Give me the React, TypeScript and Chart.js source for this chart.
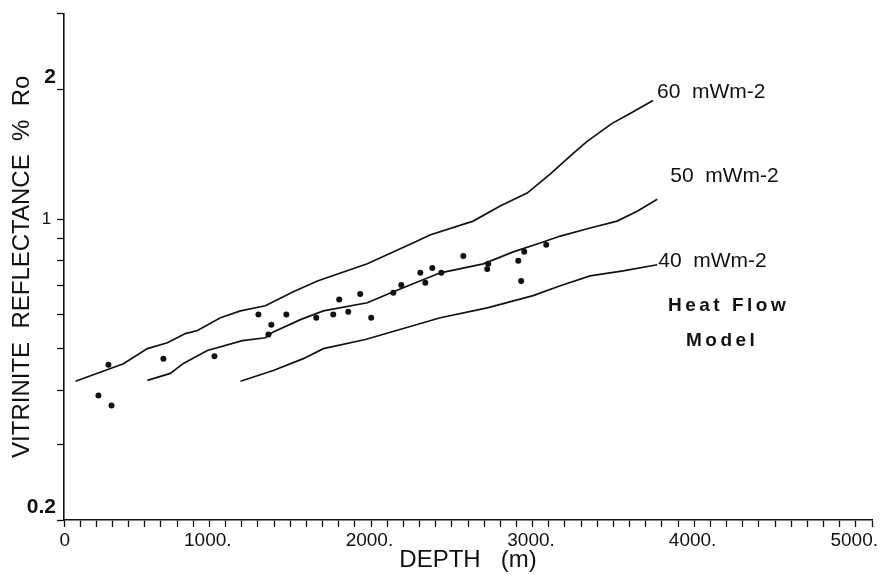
import React, { useEffect, useRef } from 'react';
import { Chart, registerables } from 'chart.js';

Chart.register(...registerables);

// ---- data ----
const curve60Depth = [71, 368, 516, 640, 751, 826, 968, 1092, 1246, 1419, 1568, 1877, 2186, 2264, 2532, 2699, 2866, 3008, 3151, 3237, 3392, 3503, 3645];
const curve60Ro = [0.42, 0.461, 0.5, 0.516, 0.542, 0.551, 0.59, 0.612, 0.629, 0.678, 0.718, 0.787, 0.889, 0.918, 0.989, 1.072, 1.149, 1.271, 1.421, 1.515, 1.668, 1.759, 1.886];

const curve50Depth = [516, 658, 739, 887, 1104, 1246, 1289, 1463, 1605, 1877, 2038, 2329, 2595, 2780, 2947, 3071, 3256, 3423, 3547, 3671];
const curve50Ro = [0.422, 0.438, 0.462, 0.495, 0.522, 0.53, 0.545, 0.584, 0.612, 0.639, 0.678, 0.75, 0.787, 0.839, 0.88, 0.913, 0.953, 0.989, 1.043, 1.112];

const curve40Depth = [1092, 1295, 1481, 1605, 1865, 2329, 2619, 2903, 3071, 3256, 3460, 3671];
const curve40Ro = [0.42, 0.445, 0.474, 0.5, 0.525, 0.59, 0.622, 0.664, 0.7, 0.738, 0.758, 0.783];

const sampleDepth = [213, 275, 294, 615, 931, 1203, 1283, 1265, 1376, 1561, 1666, 1703, 1759, 1833, 1901, 2038, 2087, 2205, 2236, 2279, 2335, 2471, 2625, 2619, 2811, 2829, 2848, 2984];
const sampleRo = [0.389, 0.459, 0.369, 0.474, 0.48, 0.6, 0.568, 0.539, 0.6, 0.59, 0.6, 0.65, 0.609, 0.67, 0.59, 0.674, 0.703, 0.75, 0.711, 0.77, 0.75, 0.821, 0.787, 0.766, 0.8, 0.718, 0.839, 0.871];

const curveLabels = ['60  mWm-2', '50  mWm-2', '40  mWm-2'];

const xMajorTicks = [0, 1000, 2000, 3000, 4000, 5000];
const xTickLabels = ['0', '1000.', '2000.', '3000.', '4000.', '5000.'];

const yTicks = [0.2, 0.3, 0.4, 0.5, 0.6, 0.7, 0.8, 0.9, 1, 2, 3];
const yLabelledTicks = [0.2, 1, 2];
const yTickLabels = ['0.2', '1', '2'];

const FONT = '"Liberation Sans", Arial, Helvetica, sans-serif';
const INK = '#111';

const zip = (xs: number[], ys: number[]) => xs.map((x, i) => ({ x, y: ys[i] }));

const annotationPlugin = {
  id: 'annotations',
  afterDatasetsDraw(chart: any) {
    const ctx = chart.ctx;
    ctx.save();
    ctx.fillStyle = INK;
    ctx.textBaseline = 'middle';
    ctx.textAlign = 'left';
    const offsets = [
      [4, -8],
      [13, -23],
      [1, -4],
    ];
    ctx.font = `21px ${FONT}`;
    for (let i = 0; i < 3; i++) {
      const meta = chart.getDatasetMeta(i);
      const last = meta.data[meta.data.length - 1];
      ctx.fillText(curveLabels[i], last.x + offsets[i][0], last.y + offsets[i][1]);
    }
    ctx.font = `bold 19px ${FONT}`;
    (ctx as any).letterSpacing = '3.5px';
    ctx.fillText('Heat Flow', 668, 306);
    ctx.fillText('Model', 686, 341);
    (ctx as any).letterSpacing = '0px';
    ctx.restore();
  },
};

export default function App() {
  const ref = useRef<HTMLCanvasElement | null>(null);

  useEffect(() => {
    if (!ref.current) return;
    const lineDs = (data: any[]) => ({
      type: 'line' as const,
      data,
      borderColor: INK,
      borderWidth: 1.7,
      pointRadius: 0,
      tension: 0,
      fill: false,
    });
    const chart = new Chart(ref.current, {
      type: 'line',
      data: {
        datasets: [
          lineDs(zip(curve60Depth, curve60Ro)),
          lineDs(zip(curve50Depth, curve50Ro)),
          lineDs(zip(curve40Depth, curve40Ro)),
          {
            type: 'scatter' as any,
            data: zip(sampleDepth, sampleRo),
            showLine: false,
            pointRadius: 3,
            pointBackgroundColor: INK,
            pointBorderColor: INK,
            borderWidth: 0,
          } as any,
        ],
      },
      plugins: [annotationPlugin],
      options: {
        responsive: false,
        animation: false,
        layout: { padding: { top: 12, right: 10, left: 0, bottom: 0 } },
        plugins: {
          legend: { display: false },
          tooltip: { enabled: false },
        },
        scales: {
          x: {
            type: 'linear',
            min: 0,
            max: 5000,
            afterBuildTicks: (s: any) => {
              const t = [];
              for (let v = 0; v <= 5000; v += 100) t.push({ value: v });
              s.ticks = t;
            },
            afterFit: (s: any) => {
              s.height = 55;
            },
            ticks: {
              autoSkip: false,
              maxRotation: 0,
              minRotation: 0,
              align: 'end',
              labelOffset: 6,
              padding: 2,
              color: INK,
              font: { family: FONT, size: 19 },
              callback: (v: any) => {
                const i = xMajorTicks.indexOf(Number(v));
                return i >= 0 ? xTickLabels[i] : '';
              },
            },
            grid: {
              drawOnChartArea: false,
              drawTicks: true,
              tickLength: 7,
              tickColor: INK,
              tickWidth: 1.3,
            },
            border: { display: true, color: INK, width: 1.6 },
            title: {
              display: true,
              text: 'DEPTH   (m)',
              color: INK,
              font: { family: FONT, size: 24, lineHeight: 1.2 },
              padding: { top: 0, bottom: 0 },
            },
          },
          y: {
            type: 'logarithmic',
            min: 0.2,
            max: 3,
            afterBuildTicks: (s: any) => {
              s.ticks = yTicks.map((v) => ({ value: v }));
            },
            afterFit: (s: any) => {
              s.width = 64;
            },
            ticks: {
              autoSkip: false,
              padding: 1,
              color: INK,
              font: (c: any) =>
                c.tick && c.tick.value === 1
                  ? { family: FONT, size: 17, weight: 'normal' }
                  : { family: FONT, size: 21, weight: 'bold', lineHeight: 1.2 },
              callback: (v: any) => {
                const i = yLabelledTicks.indexOf(Number(v));
                if (i < 0) return '';
                if (yLabelledTicks[i] === 1) return yTickLabels[i] + ' ';
                return [yTickLabels[i], ''];
              },
            },
            grid: {
              drawOnChartArea: false,
              drawTicks: true,
              tickLength: 7,
              tickColor: INK,
              tickWidth: 1.3,
            },
            border: { display: true, color: INK, width: 1.6 },
            title: {
              display: true,
              text: 'VITRINITE  REFLECTANCE  %  Ro',
              color: INK,
              font: { family: FONT, size: 24, lineHeight: 1.2 },
              padding: { top: 8, bottom: 0 },
            },
          },
        },
      } as any,
    });
    return () => chart.destroy();
  }, []);

  return (
    <div style={{ position: 'absolute', left: 0, top: 0, width: 882, height: 575, background: '#fff' }}>
      <canvas ref={ref} width={882} height={575} style={{ display: 'block' }} />
    </div>
  );
}
